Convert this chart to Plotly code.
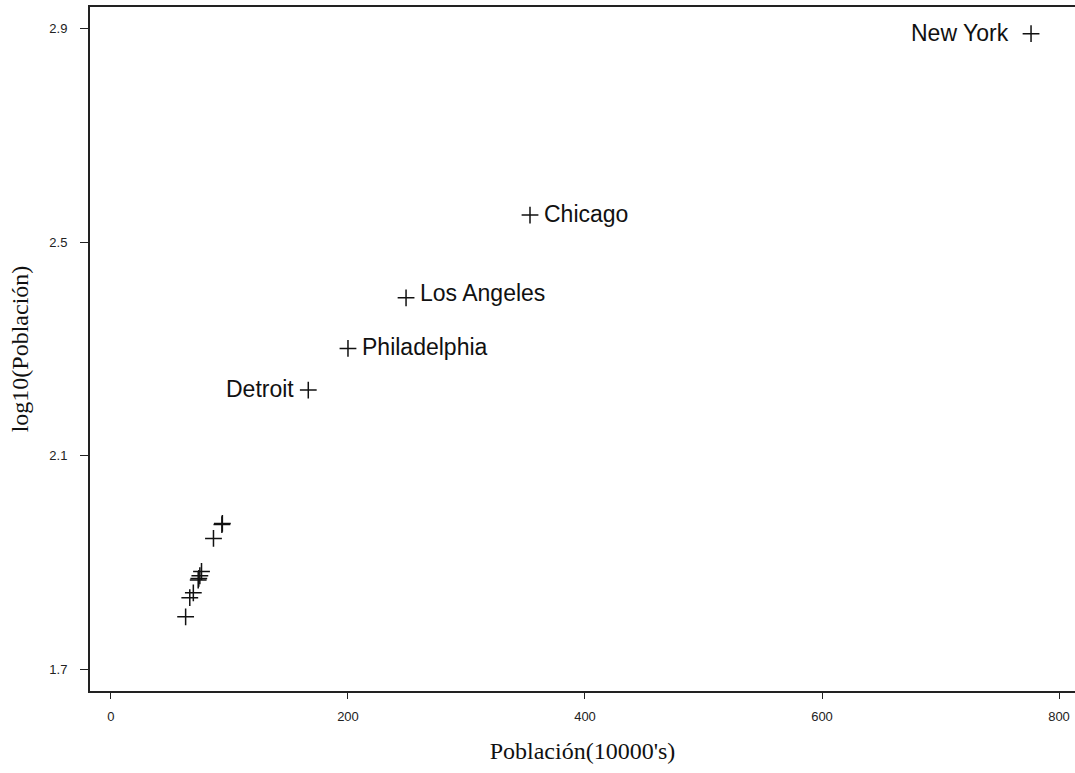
import plotly.graph_objects as go

# Data
cities = ["New York", "Chicago", "Los Angeles", "Philadelphia", "Detroit",
          "Baltimore", "Houston", "Cleveland", "Washington", "St. Louis",
          "Milwaukee", "San Francisco", "Boston", "Dallas", "New Orleans"]
poblacion = [776.4, 353.6, 249.0, 200.0, 166.5,
             94.0, 93.6, 86.5, 76.4, 75.0,
             74.1, 73.6, 69.5, 66.5, 63.0]
log_poblacion = [2.891, 2.551, 2.396, 2.301, 2.223,
                 1.973, 1.971, 1.945, 1.883, 1.875,
                 1.870, 1.867, 1.843, 1.834, 1.798]
labels = ["New York", "Chicago", "Los Angeles", "Philadelphia", "Detroit",
          "", "", "", "", "", "", "", "", "", ""]
label_side = ["left", "right", "right", "right", "left",
              "", "", "", "", "", "", "", "", "", ""]

x_ticks = [0, 200, 400, 600, 800]
y_ticks = [1.7, 2.1, 2.5, 2.9]

fig = go.Figure()
fig.add_trace(go.Scatter(
    x=poblacion, y=log_poblacion,
    mode="markers",
    marker=dict(symbol="cross-thin-open", size=12,
                line=dict(color="#111", width=1.5), color="#111"),
    hoverinfo="skip",
    showlegend=False,
))

label_font = dict(family="Liberation Sans, Arial, sans-serif", size=23, color="#111")
for xv, yv, lab, side in zip(poblacion, log_poblacion, labels, label_side):
    if not lab:
        continue
    if side == "left":
        xanchor = "right"
        xshift = -20 if lab == "New York" else -12
    else:
        xanchor, xshift = "left", 12
    yshift = 5 if lab == "Los Angeles" else 1
    fig.add_annotation(x=xv, y=yv, text=lab, showarrow=False,
                       xanchor=xanchor, yanchor="middle",
                       xshift=xshift, yshift=yshift, font=label_font)

axis_font = dict(family="Liberation Sans, Arial, sans-serif", size=13, color="#222")
title_font = dict(family="Liberation Serif, Times New Roman, serif", size=24, color="#111")

fig.update_layout(
    width=1075, height=773,
    margin=dict(l=90, r=0, t=7, b=82),
    paper_bgcolor="white", plot_bgcolor="white",
    xaxis=dict(
        range=[-17.7, 813.5],
        tickvals=x_ticks, ticktext=[str(v) for v in x_ticks],
        ticks="outside", ticklen=6, tickwidth=1.2, tickcolor="#222",
        showline=True, linecolor="#222", linewidth=2, mirror=True,
        showgrid=False, zeroline=False, automargin=False,
        tickfont=axis_font, ticklabelstandoff=6,
        title=dict(text="Población(10000's)", font=title_font, standoff=20),
    ),
    yaxis=dict(
        range=[1.659, 2.941],
        tickvals=y_ticks, ticktext=[f"{v:.1f}" for v in y_ticks],
        ticks="outside", ticklen=8, tickwidth=1.2, tickcolor="#222",
        showline=True, linecolor="#222", linewidth=2, mirror=False,
        showgrid=False, zeroline=False, automargin=False,
        tickfont=axis_font, ticklabelstandoff=10,
        title=dict(text="log10(Población)", font=title_font, standoff=14),
    ),
)

fig.write_html("out.html", config={"displayModeBar": False},
               post_script="document.body.style.margin='0';")
